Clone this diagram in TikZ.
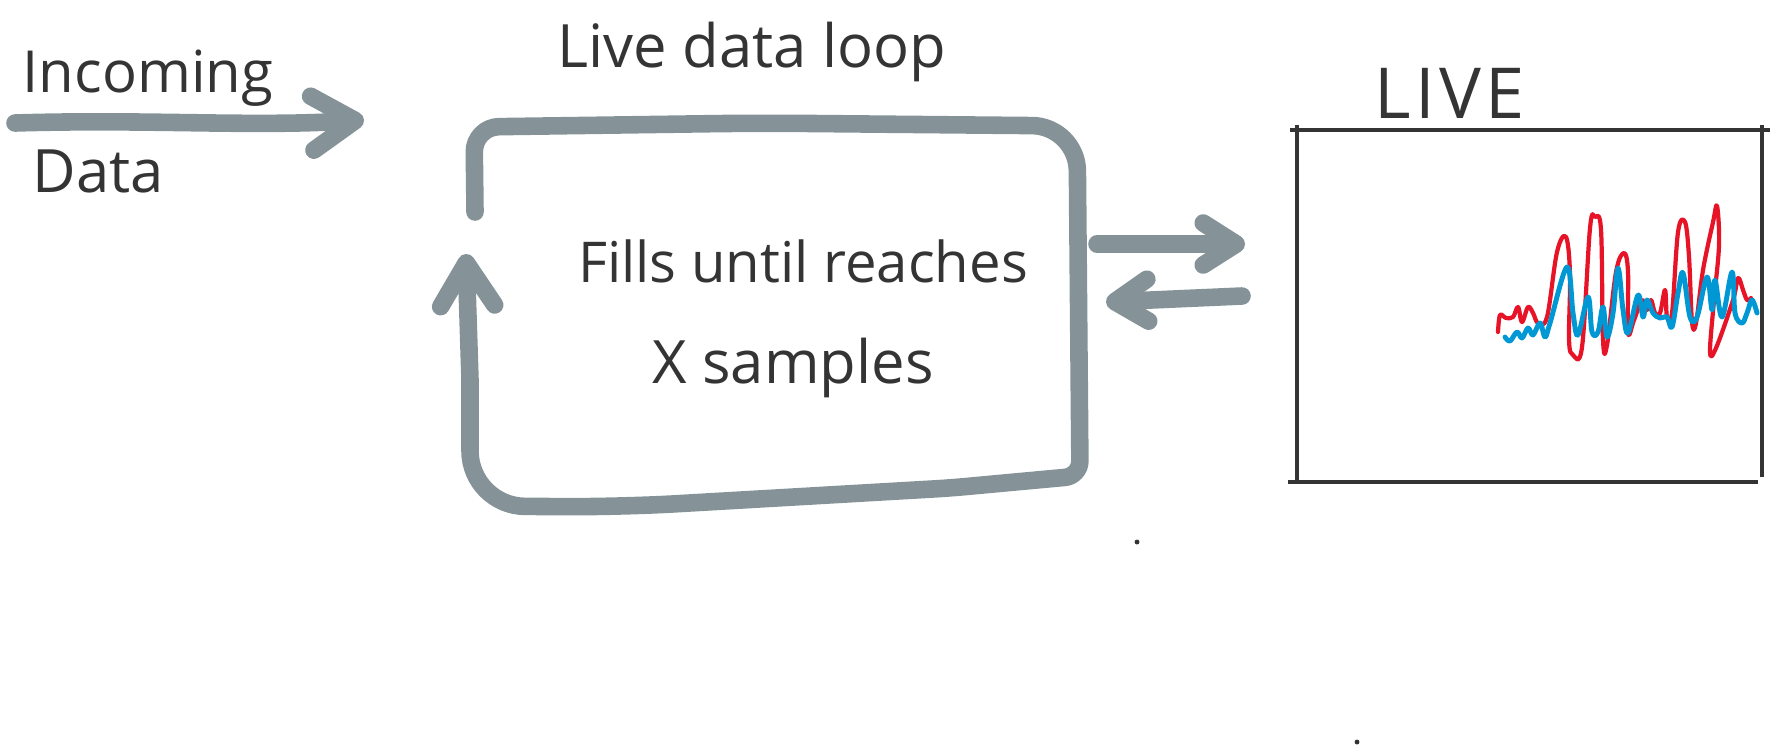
\documentclass[tikz,border=0pt]{standalone}
\usepackage{fontspec}
\setmainfont{Open Sans}
\usetikzlibrary{arrows.meta}
\definecolor{slate}{RGB}{133,147,152}
\definecolor{ink}{RGB}{52,52,52}
\definecolor{livered}{RGB}{230,20,38}
\definecolor{liveblue}{RGB}{0,152,212}
\tikzset{
  hand/.style={text=ink, inner sep=0pt, font=\fontsize{16}{19}\selectfont},
  marker/.style={slate, line width=5pt, line cap=round, line join=round},
  barb/.style={-{Straight Barb[length=4.3mm, width=5.4mm, round]}},
  smallbarb/.style={-{Straight Barb[length=3.3mm, width=4.2mm, round]}},
  frame/.style={ink, line width=0.9pt},
  trace/.style={line width=1.2pt, line join=round, line cap=round}
}

\begin{document}
\begin{tikzpicture}[x=0.01cm, y=-0.01cm]
    \useasboundingbox (0,0) rectangle (1780,748);

    \node (incoming) [hand, font=\fontsize{16.5}{19}\selectfont, anchor=base west] at (22,92) {Incoming};
    \node (data) [hand, font=\fontsize{17}{19}\selectfont, anchor=base west] at (32,192) {Data};
    \node (title) [hand, font=\fontsize{17}{20}\selectfont, anchor=base west] at (557,67) {Live data loop};
    \node (fills) [hand, anchor=base] at (803,282) {Fills until reaches};
    \node (samples) [hand, font=\fontsize{17}{19}\selectfont, anchor=base] at (793,383) {X samples};
    \node (live) [hand, font=\fontsize{20}{24}\selectfont, anchor=base west] at (1374,118) {L\kern1.2pt I\kern1.2pt V\kern1.2pt E};

    \coordinate (in-a) at (15,123);
    \coordinate (in-b) at (364,120);
    \coordinate (out-a) at (1097,244);
    \coordinate (out-b) at (1245,244);
    \coordinate (back-a) at (1242,296);
    \coordinate (back-b) at (1106,302);

    \draw [marker, barb] (in-a) .. controls (150,119) and (250,127) .. (in-b);
    \draw [marker, smallbarb] (out-a) -- (out-b);
    \draw [marker, smallbarb] (back-a) -- (back-b);

    \draw [marker, barb] (475,212) [rounded corners=2.5mm] -- (474,127) [rounded corners=4.5mm] -- (760,123) -- (1077,126)
          [rounded corners=1.5mm] -- (1080,476) -- (950,488) [rounded corners=5.5mm] -- (620,507) -- (470,506)
          [sharp corners] -- (470,380) -- (466,254);

    \draw [frame] (1290,130) -- (1770,130);
    \draw [frame] (1297,125) -- (1297,482);
    \draw [frame] (1288,482) -- (1758,482);
    \draw [frame] (1762,125) -- (1762,477);

    \draw [trace, livered] plot [smooth, tension=0.6] coordinates {
      (1498,332) (1500,315) (1506,318) (1513,317) (1518,307) (1522,322) (1528,307) (1533,313)
      (1538,323) (1547,317) (1557,252) (1566,237) (1570,275) (1569,340) (1573,355) (1582,347)
      (1590,228) (1595,217) (1601,230) (1603,340) (1607,345) (1616,272) (1624,253) (1628,272)
      (1628,333) (1634,320) (1642,300) (1647,310) (1651,300) (1655,313) (1660,313) (1665,290)
      (1667,317) (1672,313) (1678,232) (1685,222) (1689,257) (1692,322) (1696,323) (1703,270)
      (1713,222) (1717,206) (1719,245) (1714,300) (1710,352) (1716,348) (1733,300) (1738,278)
      (1743,290) (1747,300) (1751,298)};
    \draw [trace, liveblue, line width=1.4pt] plot [smooth, tension=0.6] coordinates {
      (1505,337) (1510,341) (1517,332) (1522,338) (1528,328) (1533,335) (1540,323) (1545,337)
      (1550,323) (1567,267) (1573,313) (1578,335) (1588,297) (1592,332) (1598,332) (1603,307)
      (1607,337) (1613,313) (1618,268) (1623,310) (1628,333) (1638,295) (1643,317) (1647,300)
      (1653,313) (1660,318) (1667,317) (1672,327) (1678,293) (1683,273) (1690,317) (1697,317)
      (1707,277) (1712,310) (1715,280) (1722,317) (1732,272) (1735,313) (1742,323) (1747,313)
      (1752,300) (1757,313)};

    \fill [ink] (1137,542) circle (0.7pt);
    \fill [ink] (1357,742) circle (0.7pt);
\end{tikzpicture}
\end{document}
